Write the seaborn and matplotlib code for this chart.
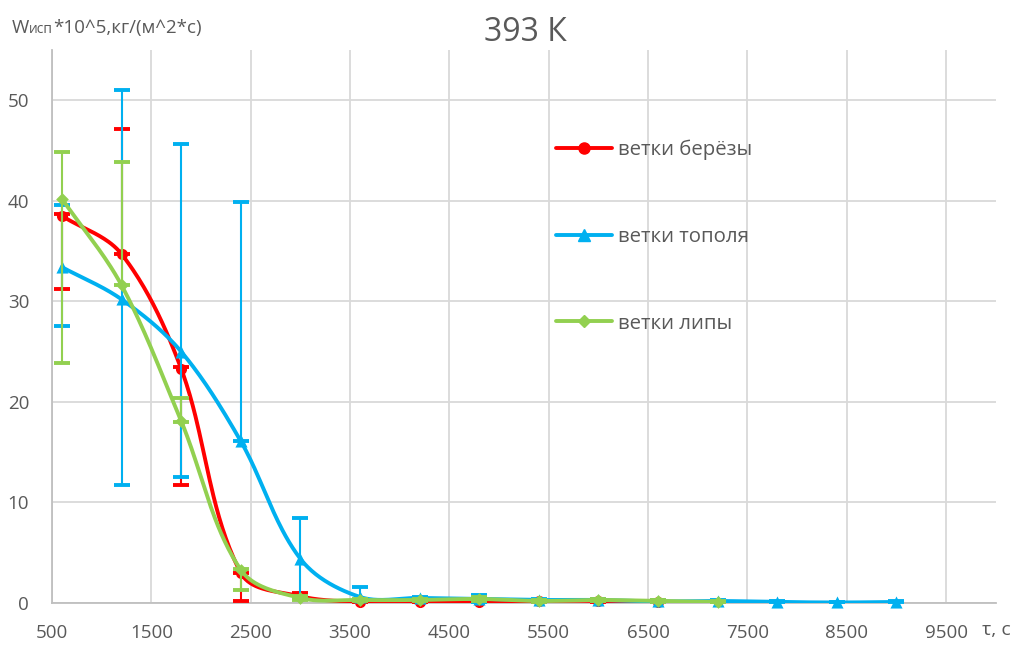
import numpy as np
import pandas as pd
import seaborn as sns
import matplotlib.pyplot as plt
from matplotlib.lines import Line2D
from matplotlib.ticker import MultipleLocator

# --- data: evaporation rate W*10^5, kg/(m^2*s) vs time, s (393 K) ---
t_birch = [600, 1200, 1800, 2400, 3000, 3600, 4200, 4800, 5400, 6000, 6600]
w_birch = [38.5, 34.7, 23.3, 3.0, 0.67, 0.1, 0.05, 0.05, 0.2, 0.2, 0.05]
birch_lo = [7.3, 0.0, 11.6, 2.8, 0.3, 0.1, 0.05, 0.05, 0.1, 0.1, 0.05]
birch_hi = [0.2, 12.4, 0.2, 0.0, 0.3, 0.1, 0.05, 0.05, 0.1, 0.1, 0.05]

t_poplar = [600, 1200, 1800, 2400, 3000, 3600, 4200, 4800, 5400, 6000, 6600,
            7200, 7800, 8400, 9000]
w_poplar = [33.4, 30.2, 25.0, 16.1, 4.4, 0.6, 0.5, 0.4, 0.3, 0.3, 0.15,
            0.2, 0.1, 0.05, 0.1]
poplar_lo = [5.9, 18.5, 12.5, 0.0, 4.0, 0.3, 0.1, 0.4, 0.1, 0.1, 0.1,
             0.1, 0.05, 0.05, 0.05]
poplar_hi = [6.2, 20.8, 20.7, 23.8, 4.1, 1.0, 0.1, 0.4, 0.1, 0.1, 0.1,
             0.1, 0.05, 0.05, 0.05]

t_linden = [600, 1200, 1800, 2400, 3000, 3600, 4200, 4800, 5400, 6000, 6600, 7200]
w_linden = [40.2, 31.6, 18.1, 3.3, 0.5, 0.3, 0.3, 0.4, 0.2, 0.3, 0.2, 0.1]
linden_lo = [16.3, 0.0, 0.1, 2.0, 0.2, 0.1, 0.1, 0.2, 0.1, 0.1, 0.1, 0.1]
linden_hi = [4.7, 12.3, 2.3, 0.1, 0.2, 0.1, 0.1, 0.2, 0.1, 0.1, 0.1, 0.1]

labels = ["ветки берёзы", "ветки тополя", "ветки липы"]
colors = ["#FF0000", "#00B0F0", "#92D050"]
markers = ["o", "^", "D"]
marker_sizes = [64, 76, 42]

x_ticks = list(range(500, 10000, 1000))
y_ticks = [0, 10, 20, 30, 40, 50]
x_lim = (500, 10000)
y_lim = (0, 55)

title = "393 К"
grey = "#595959"
axis_grey = "#BFBFBF"
grid_grey = "#D9D9D9"

sns.set_theme(style="white")
plt.rcParams["font.family"] = ["Open Sans", "DejaVu Sans"]

fig = plt.figure(figsize=(10.16, 6.46), dpi=100)
ax = fig.add_axes([0.0512, 0.0666, 0.9288, 0.8560])
ax.set_xlim(*x_lim)
ax.set_ylim(*y_lim)

# pixel scale of the data axes, used for a smooth (Bezier) line through points
pos = ax.get_position()
sx = fig.get_figwidth() * fig.dpi * pos.width / (x_lim[1] - x_lim[0])
sy = fig.get_figheight() * fig.dpi * pos.height / (y_lim[1] - y_lim[0])


def smooth_curve(x, y, tension=1 / 3, n=40):
    P = np.column_stack([np.asarray(x, float) * sx, np.asarray(y, float) * sy])
    pts = []
    m = len(P)
    for i in range(m - 1):
        p0 = P[i - 1] if i > 0 else P[i]
        p1, p2 = P[i], P[i + 1]
        p3 = P[i + 2] if i + 2 < m else P[i + 1]
        d = np.linalg.norm(p2 - p1)
        u1 = (p2 - p0) / np.linalg.norm(p2 - p0)
        u2 = (p3 - p1) / np.linalg.norm(p3 - p1)
        c1 = p1 + u1 * d * tension
        c2 = p2 - u2 * d * tension
        s = np.linspace(0, 1, n)[:, None]
        seg = ((1 - s) ** 3) * p1 + 3 * ((1 - s) ** 2) * s * c1 \
            + 3 * (1 - s) * s ** 2 * c2 + s ** 3 * p2
        pts.append(seg if i == 0 else seg[1:])
    pts = np.vstack(pts)
    return pd.DataFrame({"t": pts[:, 0] / sx, "w": pts[:, 1] / sy})


series = [
    (t_birch, w_birch, birch_lo, birch_hi),
    (t_poplar, w_poplar, poplar_lo, poplar_hi),
    (t_linden, w_linden, linden_lo, linden_hi),
]

for k, (t, w, lo, hi) in enumerate(series):
    z = 3 + k
    curve = smooth_curve(t, w)
    sns.lineplot(data=curve, x="t", y="w", sort=False, estimator=None,
                 color=colors[k], lw=2.8, ax=ax, zorder=z)
    ax.errorbar(t, w, yerr=[lo, hi], fmt="none", ecolor=colors[k],
                elinewidth=1.5, capsize=5.5, capthick=2.8, zorder=z)
    pts = pd.DataFrame({"t": t, "w": w})
    sns.scatterplot(data=pts, x="t", y="w", marker=markers[k],
                    s=marker_sizes[k], color=colors[k], edgecolor=colors[k],
                    linewidth=0, ax=ax, zorder=z + 0.5, clip_on=False)

# axes styling
ax.set_xticks(x_ticks)
ax.set_yticks(y_ticks)
ax.xaxis.set_minor_locator(MultipleLocator(200))
ax.yaxis.set_minor_locator(MultipleLocator(2))
ax.grid(True, which="major", color=grid_grey, lw=1.3)
ax.set_axisbelow(True)
for side in ["top", "right"]:
    ax.spines[side].set_visible(False)
for side in ["left", "bottom"]:
    ax.spines[side].set_color(axis_grey)
    ax.spines[side].set_linewidth(1.3)
ax.tick_params(which="both", direction="out", color=axis_grey, width=1.2,
               labelcolor=grey, labelsize=13.5)
ax.tick_params(axis="x", which="major", length=6, pad=9)
ax.tick_params(axis="x", which="minor", length=4.5)
ax.tick_params(axis="y", which="major", length=6.5, pad=10)
ax.tick_params(axis="y", which="minor", length=5)
ax.set_xlabel("")
ax.set_ylabel("")

# title and axis captions
fig.text(0.517, 0.9365, title, ha="center", va="baseline",
         fontsize=23, color=grey)
w_txt = fig.text(0.0118, 0.949, "W", ha="left", va="baseline",
                 fontsize=13.5, color=grey)
sub_txt = ax.annotate("исп", xy=(1, 0), xycoords=w_txt, ha="left",
                      va="bottom", fontsize=10, color=grey,
                      annotation_clip=False)
ax.annotate("*10^5,кг/(м^2*с)", xy=(1, 0), xycoords=sub_txt, ha="left",
            va="bottom", fontsize=13.5, color=grey, annotation_clip=False)
fig.text(0.9665, 0.017, "τ, с", ha="left", va="baseline",
         fontsize=14, color=grey)

# legend
handles = [Line2D([], [], color=colors[k], lw=2.8, marker=markers[k],
                  markersize=[8, 8.5, 6.3][k]) for k in range(3)]
fig.legend(handles, labels, loc="upper left",
           bbox_to_anchor=(0.547, 0.784), frameon=False, fontsize=14.7,
           labelcolor=grey, handlelength=2.75, handletextpad=0.3,
           labelspacing=3.27, borderpad=0, borderaxespad=0)

fig.savefig("out.png", dpi=100)
